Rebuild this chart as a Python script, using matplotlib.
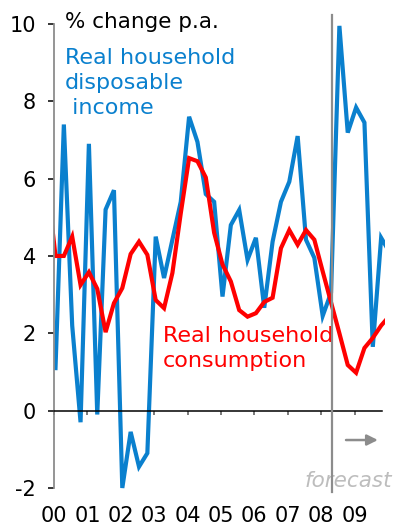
import matplotlib.pyplot as plt
import numpy as np

# valores trimestrais, 2000T1 em diante (o primeiro de consumo é 1999T4, cortado pelo eixo)
renda = [1.1, 7.4, 2.2, -0.3, 6.9, -0.1, 5.2, 5.7, -2.0, -0.55, -1.45, -1.1,
         4.5, 3.43, 4.42, 5.4, 7.6, 6.95, 5.6, 5.4, 2.95, 4.8, 5.19, 3.9,
         4.47, 2.66, 4.37, 5.4, 5.92, 7.1, 4.42, 3.95, 2.45, 3.05, 9.95, 7.19,
         7.84, 7.45, 1.65, 4.47, 4.1]
consumo = [5.9, 4.0, 4.0, 4.5, 3.25, 3.58, 3.15, 2.03, 2.78, 3.17, 4.05, 4.37,
           4.03, 2.86, 2.65, 3.56, 5.1, 6.53, 6.45, 6.03, 4.6, 3.78, 3.34, 2.6,
           2.43, 2.52, 2.81, 2.92, 4.2, 4.67, 4.29, 4.67, 4.42, 3.6, 2.8, 2.0,
           1.18, 0.98, 1.62, 1.88, 2.2, 2.45]
anos = list(range(2000, 2010))
rotulos_x = ["00", "01", "02", "03", "04", "05", "06", "07", "08", "09"]
yticks = [-2, 0, 2, 4, 6, 8, 10]
inicio_previsao = 2008.31

AZUL = "#0A80CE"
VERMELHO = "#FF0000"
CINZA = "#8C8C8C"

t_renda = 2000.045 + 0.25 * np.arange(len(renda))
t_consumo = 2000.045 - 0.25 + 0.25 * np.arange(len(consumo))

plt.rcParams["font.family"] = "DejaVu Sans"
plt.rcParams["axes.unicode_minus"] = False

fig = plt.figure(figsize=(3.93, 5.30), dpi=100)
ax = fig.add_axes([0.1374, 0.0647, 0.9796 - 0.1374, 0.912])

ax.plot(t_renda, renda, color=AZUL, lw=3.0, solid_joinstyle="miter")
ax.plot(t_consumo, consumo, color=VERMELHO, lw=3.0, solid_joinstyle="miter")

ax.set_xlim(2000.0, 2009.91)
ax.set_ylim(-2.2, 10.3)

# linha vertical da previsão
ax.plot([inicio_previsao, inicio_previsao], [-2.1, 10.23], color=CINZA, lw=1.6,
        clip_on=False, zorder=5)
ax.annotate("", xy=(2009.78, -0.76), xytext=(2008.66, -0.76),
            arrowprops=dict(arrowstyle="-|>", color=CINZA, lw=1.8,
                            mutation_scale=16))
ax.text(2010.12, -1.97, "forecast", color="#BDBDBD", style="italic",
        fontsize=15.5, ha="right", va="baseline")

ax.spines["top"].set_visible(False)
ax.spines["right"].set_visible(False)
ax.spines["left"].set_color(CINZA)
ax.spines["left"].set_linewidth(1.3)
ax.spines["left"].set_bounds(-2, 10)
ax.spines["bottom"].set_position(("data", 0))
ax.spines["bottom"].set_linewidth(1.1)
ax.spines["bottom"].set_bounds(2000.0, 2009.82)

ax.set_yticks(yticks)
ax.set_yticklabels([str(v) for v in yticks])
ax.set_xticks(anos)
ax.set_xticklabels(rotulos_x)
ax.tick_params(axis="y", direction="out", length=4, width=1.1, pad=9, labelsize=15)
ax.tick_params(axis="x", direction="out", length=3, width=1.1, pad=66, labelsize=15,
               color="#555555")

ax.text(2000.33, 9.9, "% change p.a.", fontsize=15.5, color="black", va="baseline")
ax.text(2000.33, 9.38, "Real household\ndisposable\n income", fontsize=16,
        color=AZUL, va="top", linespacing=1.33)
ax.text(2003.26, 2.19, "Real household\nconsumption", fontsize=16,
        color=VERMELHO, va="top", linespacing=1.33)

fig.savefig("out.png", dpi=100)
plt.close(fig)
